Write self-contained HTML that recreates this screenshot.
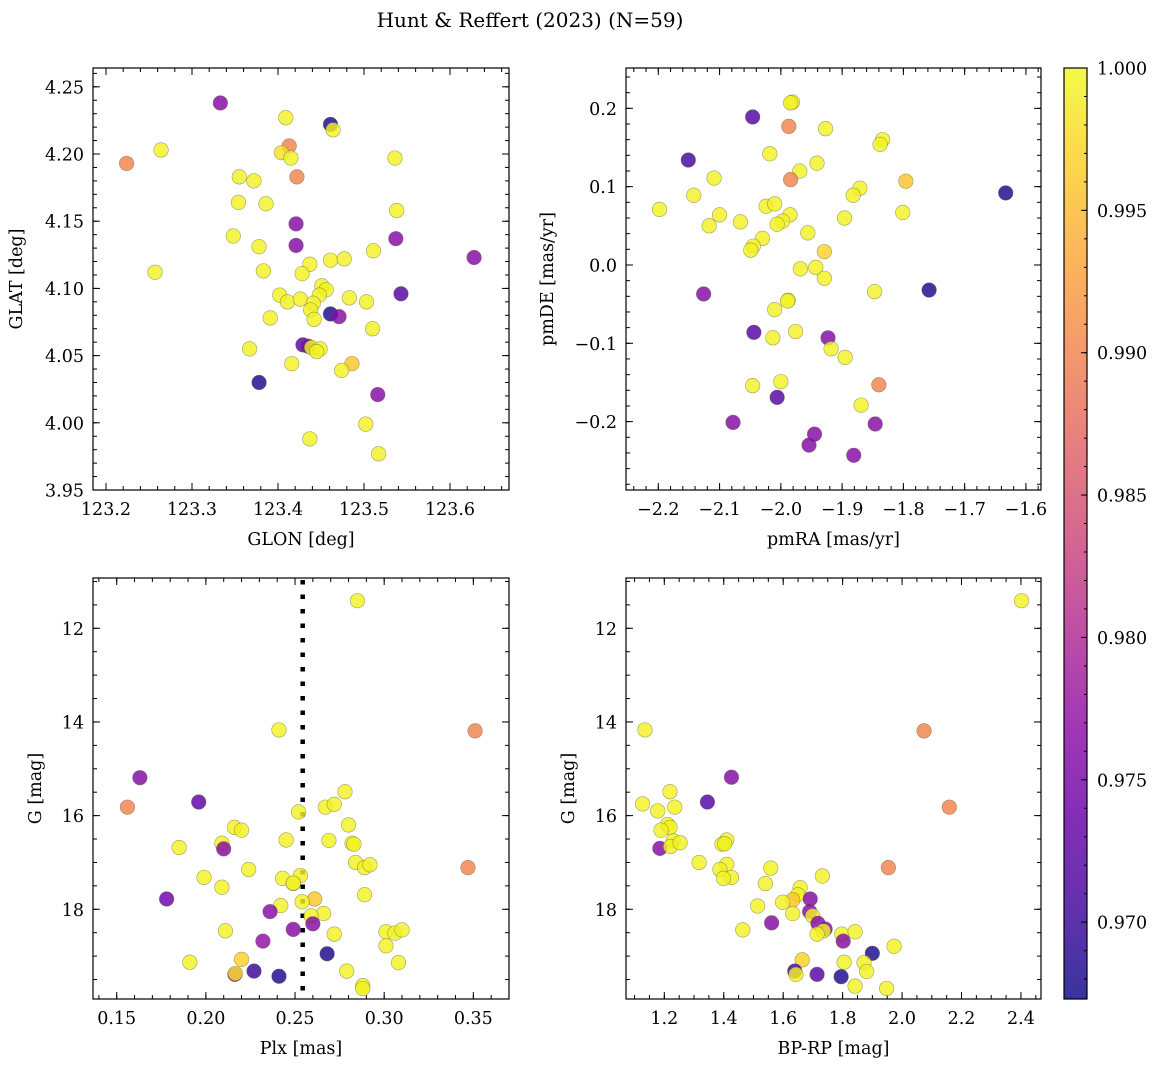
<!DOCTYPE html>
<html><head><meta charset="utf-8">
<style>
html,body{margin:0;padding:0;background:#fff;}
svg{display:block;}
text{font-family:"DejaVu Serif","Liberation Serif",serif;fill:#000;}
</style></head>
<body>
<svg id="fig" width="1161" height="1067" viewBox="0 0 1161 1067" xmlns="http://www.w3.org/2000/svg">
<rect width="1161" height="1067" fill="#fff"/>
<text x="530" y="27" font-size="20" text-anchor="middle">Hunt &amp; Reffert (2023) (N=59)</text>
</svg>
<script>
// ---- data ----
const glon=[123.333,123.409,123.461,123.464,123.264,123.224,123.413,123.404,123.415,123.536,123.422,123.355,123.372,123.354,123.386,123.538,123.421,123.348,123.537,123.421,123.378,123.511,123.628,123.461,123.477,123.437,123.257,123.383,123.428,123.451,123.456,123.402,123.448,123.543,123.483,123.411,123.426,123.441,123.503,123.438,123.461,123.471,123.442,123.391,123.510,123.429,123.435,123.439,123.449,123.445,123.367,123.416,123.486,123.474,123.378,123.516,123.502,123.437,123.517];
const glat=[4.238,4.227,4.222,4.218,4.203,4.193,4.206,4.201,4.197,4.197,4.183,4.183,4.180,4.164,4.163,4.158,4.148,4.139,4.137,4.132,4.131,4.128,4.123,4.121,4.122,4.118,4.112,4.113,4.111,4.102,4.099,4.095,4.095,4.096,4.093,4.090,4.092,4.089,4.090,4.084,4.081,4.079,4.077,4.078,4.070,4.058,4.057,4.056,4.055,4.053,4.055,4.044,4.044,4.039,4.030,4.021,3.999,3.988,3.977];
const probSky=[0.976,0.9995,0.968,0.9995,0.9995,0.990,0.990,0.998,0.9995,0.9995,0.990,0.9995,0.9995,0.9995,0.9995,0.9995,0.976,0.9995,0.976,0.976,0.9995,0.9995,0.976,0.9995,0.9995,0.9995,0.9995,0.9995,0.9995,0.9995,0.9995,0.9995,0.9995,0.972,0.9995,0.9995,0.9995,0.9995,0.9995,0.9995,0.968,0.976,0.9995,0.9995,0.9995,0.972,0.976,0.9995,0.9995,0.9995,0.9995,0.9995,0.996,0.9995,0.968,0.976,0.9995,0.9995,0.9995];

const pmra=[-1.981,-2.046,-1.987,-1.927,-1.834,-1.838,-2.151,-2.018,-1.941,-2.109,-1.969,-1.984,-1.796,-1.633,-1.871,-1.882,-2.142,-2.198,-2.024,-2.010,-1.801,-2.100,-1.985,-2.117,-2.066,-1.896,-1.997,-2.006,-1.956,-2.030,-2.045,-2.049,-1.929,-1.968,-1.943,-1.929,-2.126,-1.758,-1.847,-1.988,-1.989,-2.010,-2.044,-1.976,-2.013,-1.923,-1.918,-1.895,-2.046,-2.000,-1.840,-2.006,-1.869,-2.078,-1.846,-1.945,-1.954,-1.881,-1.984];
const pmde=[0.208,0.189,0.177,0.174,0.160,0.154,0.134,0.142,0.130,0.111,0.120,0.109,0.107,0.092,0.098,0.089,0.089,0.071,0.075,0.078,0.067,0.064,0.064,0.050,0.055,0.060,0.056,0.052,0.041,0.034,0.024,0.019,0.017,-0.005,-0.003,-0.017,-0.037,-0.032,-0.034,-0.045,-0.046,-0.057,-0.086,-0.085,-0.093,-0.093,-0.107,-0.118,-0.154,-0.149,-0.153,-0.169,-0.179,-0.201,-0.203,-0.216,-0.230,-0.243,0.207];
const probPm=[0.9995,0.972,0.990,0.9995,0.9995,0.9995,0.971,0.9995,0.9995,0.9995,0.9995,0.990,0.996,0.968,0.9995,0.9995,0.9995,0.9995,0.9995,0.9995,0.9995,0.9995,0.9995,0.9995,0.9995,0.9995,0.9995,0.9995,0.9995,0.9995,0.9995,0.9995,0.997,0.9995,0.9995,0.9995,0.976,0.968,0.9995,0.9995,0.9995,0.9995,0.972,0.9995,0.9995,0.976,0.9995,0.9995,0.9995,0.9995,0.990,0.972,0.9995,0.976,0.976,0.976,0.976,0.976,0.9995];

const plx=[0.285,0.241,0.351,0.163,0.196,0.156,0.278,0.267,0.272,0.252,0.280,0.216,0.220,0.185,0.209,0.210,0.245,0.269,0.282,0.283,0.224,0.284,0.289,0.292,0.347,0.199,0.243,0.253,0.209,0.249,0.178,0.289,0.261,0.254,0.242,0.236,0.266,0.259,0.260,0.249,0.211,0.272,0.301,0.306,0.310,0.232,0.301,0.268,0.191,0.220,0.308,0.2163,0.227,0.241,0.279,0.288,0.288,0.2165,0.249];
const gmagA=[11.41,14.17,14.19,15.19,15.71,15.82,15.49,15.82,15.76,15.92,16.20,16.25,16.31,16.68,16.59,16.71,16.52,16.53,16.59,16.61,17.15,17.00,17.11,17.05,17.11,17.32,17.34,17.28,17.53,17.45,17.78,17.69,17.78,17.84,17.92,18.05,18.09,18.14,18.31,18.43,18.46,18.53,18.48,18.51,18.44,18.68,18.78,18.95,19.13,19.07,19.14,19.39,19.32,19.43,19.32,19.63,19.69,19.37,17.44];
const probPlx=[0.9995,0.9995,0.990,0.976,0.973,0.990,0.9995,0.9995,0.9995,0.9995,0.9995,0.9995,0.9995,0.9995,0.9995,0.976,0.9995,0.9995,0.9995,0.9995,0.9995,0.9995,0.9995,0.9995,0.990,0.9995,0.9995,0.9995,0.9995,0.9995,0.974,0.9995,0.996,0.9995,0.9995,0.976,0.9995,0.9995,0.976,0.976,0.9995,0.9995,0.9995,0.9995,0.9995,0.977,0.9995,0.968,0.9995,0.997,0.9995,0.976,0.970,0.968,0.9995,0.9995,0.9995,0.998,0.9995];

const bprp=[2.402,1.135,2.074,1.426,1.345,2.159,1.219,1.127,1.235,1.178,1.211,1.219,1.189,1.185,1.230,1.221,1.253,1.410,1.394,1.403,1.317,1.410,1.387,1.426,1.399,1.558,1.732,1.954,1.540,1.657,1.649,1.632,1.691,1.598,1.514,1.689,1.632,1.699,1.717,1.741,1.735,1.714,1.561,1.464,1.797,1.842,1.802,1.973,1.900,1.664,1.805,1.872,1.881,1.639,1.643,1.714,1.795,1.842,1.948];
const gmagB=[11.41,14.17,14.19,15.18,15.71,15.82,15.49,15.75,15.82,15.90,16.19,16.25,16.31,16.70,16.54,16.66,16.58,16.52,16.61,16.60,17.00,17.04,17.15,17.32,17.34,17.12,17.29,17.11,17.45,17.54,17.69,17.80,17.78,17.85,17.93,18.05,18.09,18.14,18.30,18.42,18.46,18.53,18.29,18.44,18.53,18.48,18.68,18.79,18.94,19.08,19.13,19.14,19.33,19.32,19.39,19.39,19.44,19.64,19.69];
const probCmd=[0.9995,0.9995,0.990,0.976,0.972,0.990,0.9995,0.9995,0.9995,0.9995,0.9995,0.9995,0.9995,0.976,0.9995,0.9995,0.9995,0.9995,0.9995,0.9995,0.9995,0.9995,0.9995,0.9995,0.9995,0.9995,0.9995,0.990,0.9995,0.9995,0.9995,0.996,0.976,0.9995,0.9995,0.976,0.9995,0.9995,0.976,0.976,0.9995,0.9995,0.976,0.9995,0.9995,0.9995,0.976,0.9995,0.968,0.997,0.9995,0.9995,0.9995,0.971,0.9995,0.972,0.968,0.9995,0.9995];

const ticksGlon=[123.2,123.3,123.4,123.5,123.6];
const ticksGlat=[3.95,4.00,4.05,4.10,4.15,4.20,4.25];
const ticksPmra=[-2.2,-2.1,-2.0,-1.9,-1.8,-1.7,-1.6];
const ticksPmde=[-0.2,-0.1,0.0,0.1,0.2];
const ticksPlx=[0.15,0.20,0.25,0.30,0.35];
const ticksG=[12,14,16,18];
const ticksBprp=[1.2,1.4,1.6,1.8,2.0,2.2,2.4];
const ticksCbar=[0.970,0.975,0.980,0.985,0.990,0.995,1.000];
const plxRef=0.2543;
const probMin=0.9673, probMax=1.0;

// ---- rendering ----
const NS='http://www.w3.org/2000/svg';
const svg=document.getElementById('fig');
function mk(tag,attrs,parent){const e=document.createElementNS(NS,tag);for(const k in attrs)e.setAttribute(k,attrs[k]);(parent||svg).appendChild(e);return e;}
const PL=['#0d0887','#41049d','#6a00a8','#8f0da4','#b12a90','#cc4778','#e16462','#f2844b','#fca636','#fcce25','#f0f921'];
function hex(h){return [1,3,5].map(i=>parseInt(h.substr(i,2),16));}
function plasma(t){t=Math.max(0,Math.min(1,t));const f=t*10;const i=Math.min(9,Math.floor(f));const u=f-i;const a=hex(PL[i]),b=hex(PL[i+1]);return 'rgb('+a.map((v,k)=>Math.round(v+(b[k]-v)*u)).join(',')+')';}
function pcol(p){return plasma((p-probMin)/(probMax-probMin));}
const minus=s=>s.replace('-','\u2212');
const FS=17.5;

const panels=[
 {name:'sky',x0:93,x1:509,y0:68,y1:490,xmin:123.1849,xmax:123.6686,ymin:3.9500,ymax:4.2640,xs:glon,ys:glat,ps:probSky,xt:ticksGlon,yt:ticksGlat,xmi:0.02,ymi:0.01,xd:1,yd:2,xl:'GLON [deg]',yl:'GLAT [deg]',ylx:17},
 {name:'pm',x0:626,x1:1041,y0:68,y1:490,xmin:-2.2527,xmax:-1.5754,ymin:-0.2873,ymax:0.2515,xs:pmra,ys:pmde,ps:probPm,xt:ticksPmra,yt:ticksPmde,xmi:0.02,ymi:0.02,xd:1,yd:1,xl:'pmRA [mas/yr]',yl:'pmDE [mas/yr]',ylx:548},
 {name:'plx',x0:93,x1:509,y0:578,y1:999,xmin:0.1367,xmax:0.3700,ymin:19.916,ymax:10.926,xs:plx,ys:gmagA,ps:probPlx,xt:ticksPlx,yt:ticksG,xmi:0.01,ymi:0.5,xd:2,yd:0,xl:'Plx [mas]',yl:'G [mag]',ylx:36},
 {name:'cmd',x0:626,x1:1041,y0:578,y1:999,xmin:1.0711,xmax:2.4675,ymin:19.916,ymax:10.926,xs:bprp,ys:gmagB,ps:probCmd,xt:ticksBprp,yt:ticksG,xmi:0.05,ymi:0.5,xd:1,yd:0,xl:'BP-RP [mag]',yl:'G [mag]',ylx:569}
];

panels.forEach(P=>{
 const sx=v=>P.x0+(v-P.xmin)/(P.xmax-P.xmin)*(P.x1-P.x0);
 const sy=v=>P.y1-(v-P.ymin)/(P.ymax-P.ymin)*(P.y1-P.y0);
 const g=mk('g',{});
 
 
 const clipId='clip-'+P.name;
 const cp=mk('clipPath',{id:clipId},g);
 mk('rect',{x:P.x0,y:P.y0,width:P.x1-P.x0,height:P.y1-P.y0},cp);
 const tg=mk('g',{stroke:'#000','stroke-width':1},g);
 
 
 const lo=Math.min(P.xmin,P.xmax),hi=Math.max(P.xmin,P.xmax);
 for(let k=Math.ceil(lo/P.xmi-1e-6);k*P.xmi<=hi+1e-9;k++){const x=sx(k*P.xmi);mk('line',{x1:x,x2:x,y1:P.y1,y2:P.y1-4},tg);mk('line',{x1:x,x2:x,y1:P.y0,y2:P.y0+4},tg);}
 const ylo=Math.min(P.ymin,P.ymax),yhi=Math.max(P.ymin,P.ymax);
 for(let k=Math.ceil(ylo/P.ymi-1e-6);k*P.ymi<=yhi+1e-9;k++){const y=sy(k*P.ymi);mk('line',{y1:y,y2:y,x1:P.x0,x2:P.x0+4},tg);mk('line',{y1:y,y2:y,x1:P.x1,x2:P.x1-4},tg);}
 P.xt.forEach(v=>{const x=sx(v);mk('line',{x1:x,x2:x,y1:P.y1,y2:P.y1-7},tg);mk('line',{x1:x,x2:x,y1:P.y0,y2:P.y0+7},tg);
  const t=mk('text',{x:x,y:P.y1+25,'font-size':FS,'text-anchor':'middle'},g);t.textContent=minus(v.toFixed(P.xd));
  
  });
 P.yt.forEach(v=>{const y=sy(v);if(y<P.y0-2||y>P.y1+2)return;mk('line',{y1:y,y2:y,x1:P.x0,x2:P.x0+7},tg);mk('line',{y1:y,y2:y,x1:P.x1,x2:P.x1-7},tg);
  const t=mk('text',{x:P.x0-9,y:y+6.5,'font-size':FS,'text-anchor':'end'},g);t.textContent=minus(v.toFixed(P.yd));
  
  });
 if(P.name==='plx'){const x=sx(plxRef);const l=mk('line',{x1:x,x2:x,y1:P.y0+2,y2:P.y1,stroke:'#000','stroke-width':4.5,'stroke-dasharray':'4.5,10'},g);
  
  }
 const pg=mk('g',{'clip-path':'url(#'+clipId+')'},g);
 P.xs.forEach((v,i)=>{const c=mk('circle',{cx:sx(v),cy:sy(P.ys[i]),r:7.3,fill:pcol(P.ps[i]),'fill-opacity':0.82,stroke:'rgba(90,90,60,0.55)','stroke-width':0.6},pg);
  
  });
 const fr=mk('rect',{x:P.x0,y:P.y0,width:P.x1-P.x0,height:P.y1-P.y0,fill:'none',stroke:'#000','stroke-width':1.2},g);
 
 
 const xl=mk('text',{x:(P.x0+P.x1)/2,y:P.y1+55,'font-size':FS,'text-anchor':'middle'},g);xl.textContent=P.xl;
 
 
 const cy=(P.y0+P.y1)/2;
 const yl=mk('text',{x:P.ylx,y:cy,'font-size':FS,'text-anchor':'middle',transform:'rotate(-90 '+P.ylx+' '+cy+')','dominant-baseline':'central'},g);yl.textContent=P.yl;
 
 
});

const cb={x0:1064,x1:1087,y0:68,y1:999};
const cg=mk('g',{});


const defs=mk('defs',{},cg);
const grad=mk('linearGradient',{id:'cbgrad',x1:0,y1:1,x2:0,y2:0},defs);
PL.forEach((c,i)=>mk('stop',{offset:(i/10),'stop-color':c,'stop-opacity':0.82},grad));
mk('rect',{x:cb.x0,y:cb.y0,width:cb.x1-cb.x0,height:cb.y1-cb.y0,fill:'url(#cbgrad)'},cg);
const cy=v=>cb.y1-(v-probMin)/(probMax-probMin)*(cb.y1-cb.y0);
for(let k=Math.ceil(probMin/0.001);k*0.001<=probMax+1e-9;k++){const y=cy(k*0.001);mk('line',{x1:cb.x1,x2:cb.x1-3,y1:y,y2:y,stroke:'#000','stroke-width':1},cg);}
ticksCbar.forEach(v=>{const y=cy(v);mk('line',{x1:cb.x1,x2:cb.x1-6,y1:y,y2:y,stroke:'#000','stroke-width':1},cg);
 const t=mk('text',{x:1097,y:y+6.5,'font-size':FS},cg);t.textContent=v.toFixed(3);
 
 });
mk('rect',{x:cb.x0,y:cb.y0,width:cb.x1-cb.x0,height:cb.y1-cb.y0,fill:'none',stroke:'#000','stroke-width':1.2},cg);
</script>
</body></html>
